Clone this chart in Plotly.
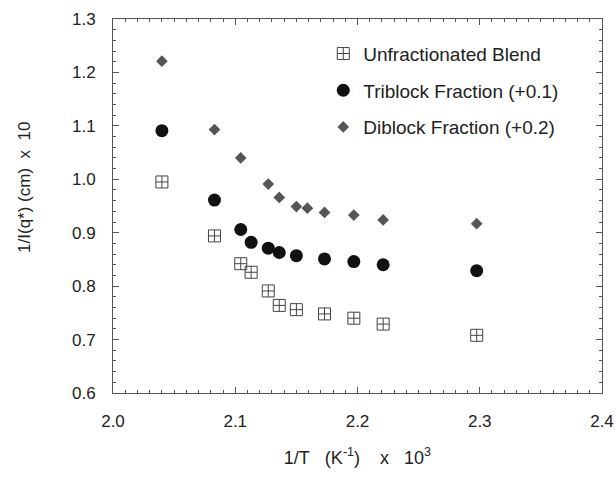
import plotly.graph_objects as go

# data (x = 1/T * 1e3, y = 1/I(q*) * 10)
x_blend = [2.040, 2.083, 2.1045, 2.113, 2.127, 2.136, 2.150, 2.173, 2.197, 2.221, 2.2975]
y_blend = [0.995, 0.894, 0.842, 0.826, 0.791, 0.764, 0.756, 0.748, 0.740, 0.729, 0.708]

x_tri = [2.040, 2.083, 2.1045, 2.113, 2.127, 2.136, 2.150, 2.173, 2.197, 2.221, 2.2975]
y_tri = [1.091, 0.961, 0.906, 0.882, 0.871, 0.863, 0.857, 0.851, 0.846, 0.840, 0.829]

x_di = [2.040, 2.083, 2.1045, 2.127, 2.136, 2.150, 2.159, 2.173, 2.197, 2.221, 2.2975]
y_di = [1.221, 1.093, 1.040, 0.991, 0.966, 0.949, 0.946, 0.938, 0.933, 0.924, 0.917]

names = ["Unfractionated Blend", "Triblock Fraction (+0.1)", "Diblock Fraction (+0.2)"]

x_tickvals = [2.0, 2.1, 2.2, 2.3, 2.4]
x_ticktext = ["2.0", "2.1", "2.2", "2.3", "2.4"]
x_midticks = [2.05, 2.15, 2.25, 2.35]
y_tickvals = [0.6, 0.7, 0.8, 0.9, 1.0, 1.1, 1.2, 1.3]
y_ticktext = ["0.6", "0.7", "0.8", "0.9", "1.0", "1.1", "1.2", "1.3"]

FONT = "Liberation Sans, Arial, Helvetica, sans-serif"
AX = "#555555"
NB = "\u00a0"

fig = go.Figure()
fig.add_trace(go.Scatter(x=x_blend, y=y_blend, mode="markers", name=names[0], legendgroup="a",
                         marker=dict(symbol="square-cross-open", size=12, color="#444444",
                                     line=dict(width=1, color="#444444"))))
fig.add_trace(go.Scatter(x=x_tri, y=y_tri, mode="markers", name=names[1], legendgroup="b",
                         marker=dict(symbol="circle", size=13, color="#111111")))
fig.add_trace(go.Scatter(x=x_di, y=y_di, mode="markers", name=names[2], legendgroup="c",
                         marker=dict(symbol="diamond", size=9, color="#555555")))

axis_common = dict(
    showline=True, linecolor=AX, linewidth=1, mirror="allticks",
    ticks="inside", tickcolor=AX, tickwidth=1,
    showgrid=False, zeroline=False,
    tickfont=dict(family=FONT, size=17, color="#222222"),
)

fig.update_layout(
    xaxis=dict(
        range=[2.0, 2.4], tickmode="array", tickvals=x_tickvals, ticktext=x_ticktext, ticklen=6,
        minor=dict(dtick=0.01, tick0=2.0, ticks="inside", ticklen=3, tickcolor=AX, showgrid=False),
        ticklabelstandoff=13,
        title=dict(text="1/T" + NB * 3 + "(K<sup>-1</sup>)" + NB * 4 + "x" + NB * 3 + "10<sup>3</sup>",
                   font=dict(family=FONT, size=18, color="#222222"), standoff=20),
        **axis_common,
    ),
    xaxis2=dict(
        overlaying="x", matches="x", side="bottom", range=[2.0, 2.4],
        tickmode="array", tickvals=x_midticks, showticklabels=False,
        ticks="inside", ticklen=6, tickcolor=AX, tickwidth=1,
        showline=True, linecolor=AX, linewidth=1, mirror="ticks",
        showgrid=False, zeroline=False,
    ),
    yaxis=dict(
        range=[0.6, 1.3], tickmode="array", tickvals=y_tickvals, ticktext=y_ticktext, ticklen=6,
        minor=dict(dtick=0.02, tick0=0.6, ticks="inside", ticklen=3, tickcolor=AX, showgrid=False),
        ticklabelstandoff=13,
        **axis_common,
    ),
    annotations=[dict(
        text="1/I(q*) (cm)" + NB * 2 + "x" + NB * 2 + "10",
        xref="paper", yref="paper", x=-0.18, y=0.551, xanchor="center", yanchor="middle",
        textangle=-90, showarrow=False,
        font=dict(family=FONT, size=17, color="#222222"),
    )],
    width=616, height=477,
    margin=dict(l=113, r=14, t=19, b=84, autoexpand=False),
    paper_bgcolor="white", plot_bgcolor="white",
    showlegend=True,
    legend=dict(x=0.43, y=0.958, xanchor="left", yanchor="top",
                bgcolor="rgba(0,0,0,0)", traceorder="grouped", tracegroupgap=9,
                font=dict(family=FONT, size=19, color="#222222")),
)

fig.write_html("out.html")
